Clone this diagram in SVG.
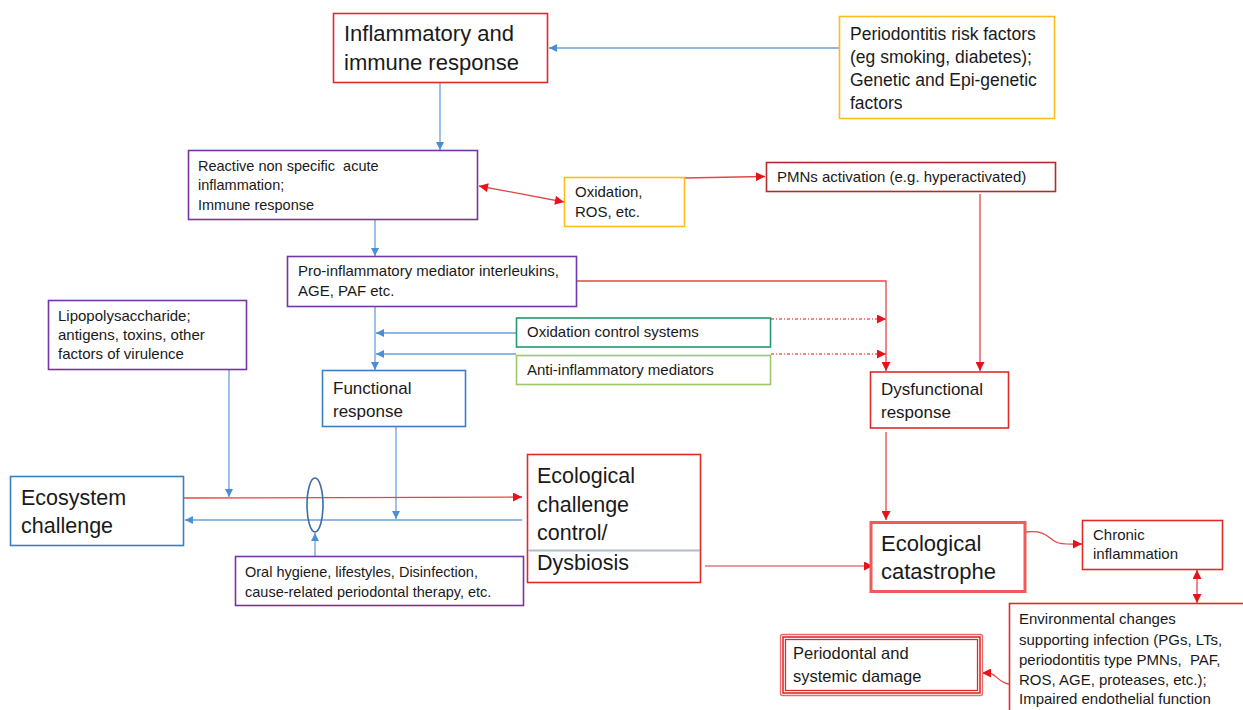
<svg xmlns="http://www.w3.org/2000/svg" width="1243" height="710" viewBox="0 0 1243 710">
  <defs>
    <marker id="arrBlue" viewBox="0 0 10 10" refX="10" refY="5" markerWidth="9" markerHeight="8" markerUnits="userSpaceOnUse" orient="auto-start-reverse">
      <path d="M0,0 L10,5 L0,10 z" fill="#4a8fd4"/>
    </marker>
    <marker id="arrRed" viewBox="0 0 10 10" refX="10" refY="5" markerWidth="10" markerHeight="9" markerUnits="userSpaceOnUse" orient="auto-start-reverse">
      <path d="M0,0 L10,5 L0,10 z" fill="#e8121b"/>
    </marker>
    <style>
      text { font-family: "Liberation Sans", Arial, sans-serif; fill: #1a1a1a; white-space: pre; }
      .box { fill: #ffffff; stroke-width: 1.6; }
      .red { stroke: #e02a2a; }
      .darkred { stroke: #b52a2e; }
      .purple { stroke: #7536a4; }
      .orange { stroke: #fcbc1c; }
      .blue { stroke: #3a7fc4; }
      .green { stroke: #23996b; }
      .lgreen { stroke: #9cc966; }
      .big { font-size: 22px; }
      .mid { font-size: 17px; }
      .sm { font-size: 15px; }
      .xs { font-size: 14.5px; }
      .cb { fill: none; stroke: #6a9fd6; stroke-width: 1.3; }
      .cr { fill: none; stroke: #e64545; stroke-width: 1.3; }
      .cd { fill: none; stroke: #e8121b; stroke-width: 1.2; stroke-dasharray: 3 2 1 2; }
    </style>
  </defs>

  <!-- connectors -->
  <g id="connectors">
    <line class="cb" x1="840" y1="48" x2="549" y2="48" marker-end="url(#arrBlue)"/>
    <line class="cb" x1="440" y1="83" x2="440" y2="150" marker-end="url(#arrBlue)"/>
    <line class="cr" x1="479" y1="186" x2="564" y2="202" marker-start="url(#arrRed)" marker-end="url(#arrRed)"/>
    <line class="cr" x1="684" y1="178" x2="765" y2="176.5" marker-end="url(#arrRed)"/>
    <line class="cb" x1="375" y1="220" x2="375" y2="256" marker-end="url(#arrBlue)"/>
    <line class="cb" x1="375" y1="307" x2="375" y2="370" marker-end="url(#arrBlue)"/>
    <line class="cb" x1="516" y1="333" x2="376" y2="333" marker-end="url(#arrBlue)"/>
    <line class="cb" x1="516" y1="354" x2="376" y2="354" marker-end="url(#arrBlue)"/>
    <line class="cd" x1="771" y1="319" x2="886" y2="319" marker-end="url(#arrRed)"/>
    <line class="cd" x1="771" y1="354" x2="886" y2="354" marker-end="url(#arrRed)"/>
    <polyline class="cr" points="577,281 886,281 886,371" marker-end="url(#arrRed)"/>
    <line class="cr" x1="980" y1="194" x2="980" y2="371" marker-end="url(#arrRed)"/>
    <line class="cr" x1="886" y1="432" x2="886" y2="520" marker-end="url(#arrRed)"/>
    <line class="cb" x1="229" y1="370" x2="229" y2="497" marker-end="url(#arrBlue)"/>
    <line class="cb" x1="396" y1="427" x2="396" y2="519" marker-end="url(#arrBlue)"/>
    <line class="cr" x1="181" y1="498" x2="522" y2="497" marker-end="url(#arrRed)"/>
    <line class="cb" x1="522" y1="520" x2="185" y2="520" marker-end="url(#arrBlue)"/>
    <line class="cb" x1="315" y1="556" x2="315" y2="533" marker-end="url(#arrBlue)"/>
    <ellipse cx="315" cy="505" rx="8" ry="27" fill="none" stroke="#3b6da6" stroke-width="1.6"/>
    <line x1="705" y1="566" x2="873" y2="566" stroke="#e07a7a" stroke-width="1.6" marker-end="url(#arrRed)"/>
    <path class="cr" d="M1026,532 C1046,530 1048,538 1056,542 C1062,545 1070,544 1082,544" marker-end="url(#arrRed)"/>
    <line class="cr" x1="1197" y1="570" x2="1197" y2="603" marker-start="url(#arrRed)" marker-end="url(#arrRed)"/>
    <path class="cr" d="M1009,684 C999,683 995,673 989,673 L982,673" marker-end="url(#arrRed)"/>
  </g>

  <g id="inflammatory-response">
    <rect class="box red" x="333.5" y="13.5" width="214" height="69"/>
    <text class="big" x="344" y="41">Inflammatory and</text>
    <text class="big" x="344" y="70">immune response</text>
  </g>

  <g id="risk-factors">
    <rect class="box orange" x="839.5" y="16.5" width="215" height="102"/>
    <text style="font-size:17.5px" x="850" y="40">Periodontitis risk factors</text>
    <text style="font-size:17.5px" x="850" y="63">(eg smoking, diabetes);</text>
    <text style="font-size:17.5px" x="850" y="86">Genetic and Epi-genetic</text>
    <text style="font-size:17.5px" x="850" y="109">factors</text>
  </g>

  <g id="acute-inflammation">
    <rect class="box purple" x="188.5" y="150.5" width="289" height="69"/>
    <text class="xs" x="198" y="171" xml:space="preserve">Reactive non specific  acute</text>
    <text class="xs" x="198" y="190">inflammation;</text>
    <text class="xs" x="198" y="210">Immune response</text>
  </g>

  <g id="oxidation">
    <rect class="box orange" x="564.5" y="177.5" width="120" height="49"/>
    <text class="sm" x="575" y="197">Oxidation,</text>
    <text class="sm" x="575" y="217">ROS, etc.</text>
  </g>

  <g id="pmn-activation">
    <rect class="box darkred" x="766.5" y="162.5" width="289" height="29"/>
    <text class="sm" x="777" y="182">PMNs activation (e.g. hyperactivated)</text>
  </g>

  <g id="pro-inflammatory">
    <rect class="box purple" x="287.5" y="256.5" width="289" height="50"/>
    <text class="sm" x="298" y="276">Pro-inflammatory mediator interleukins,</text>
    <text class="sm" x="298" y="296">AGE, PAF etc.</text>
  </g>

  <g id="lipopolysaccharide">
    <rect class="box purple" x="48.5" y="300.5" width="198" height="69"/>
    <text class="sm" x="58" y="321">Lipopolysaccharide;</text>
    <text class="sm" x="58" y="340">antigens, toxins, other</text>
    <text class="sm" x="58" y="359">factors of virulence</text>
  </g>

  <g id="oxidation-control">
    <rect class="box green" x="516.5" y="318" width="254" height="29"/>
    <text class="sm" x="527" y="337">Oxidation control systems</text>
  </g>

  <g id="anti-inflammatory">
    <rect class="box lgreen" x="516.5" y="355.5" width="254" height="29"/>
    <text class="sm" x="527" y="375">Anti-inflammatory mediators</text>
  </g>

  <g id="functional-response">
    <rect class="box blue" x="322.5" y="370.5" width="143" height="56"/>
    <text class="mid" x="333" y="394">Functional</text>
    <text class="mid" x="333" y="417">response</text>
  </g>

  <g id="dysfunctional-response">
    <rect class="box red" x="870.5" y="372" width="138" height="56"/>
    <text class="mid" x="881" y="395">Dysfunctional</text>
    <text class="mid" x="881" y="418">response</text>
  </g>

  <g id="ecosystem-challenge">
    <rect class="box blue" x="10.5" y="476.5" width="173" height="69"/>
    <text style="font-size:21.5px" x="21" y="505">Ecosystem</text>
    <text style="font-size:21.5px" x="21" y="533">challenge</text>
  </g>

  <g id="oral-hygiene">
    <rect class="box purple" x="235.5" y="556.5" width="288" height="49"/>
    <text class="xs" x="245" y="577">Oral hygiene, lifestyles, Disinfection,</text>
    <text class="xs" x="245" y="597">cause-related periodontal therapy, etc.</text>
  </g>

  <g id="ecological-control">
    <rect class="box red" x="527.5" y="454.5" width="173" height="128"/>
    <line x1="528" y1="550.5" x2="700" y2="550.5" stroke="#adbbcc" stroke-width="1.8"/>
    <text style="font-size:21.5px" x="537" y="483">Ecological</text>
    <text style="font-size:21.5px" x="537" y="512">challenge</text>
    <text style="font-size:21.5px" x="537" y="540">control/</text>
    <text style="font-size:21.5px" x="537" y="570">Dysbiosis</text>
  </g>

  <g id="ecological-catastrophe">
    <rect x="871" y="522.5" width="154" height="69" fill="#ffffff" stroke="#f05a5a" stroke-width="3"/>
    <text class="big" x="881" y="551">Ecological</text>
    <text class="big" x="881" y="579">catastrophe</text>
  </g>

  <g id="chronic-inflammation">
    <rect class="box red" x="1082.5" y="520.5" width="140" height="49"/>
    <text class="sm" x="1093" y="540">Chronic</text>
    <text class="sm" x="1093" y="559">inflammation</text>
  </g>

  <g id="environmental-changes">
    <rect class="box red" x="1009.5" y="603.5" width="240" height="120"/>
    <text class="sm" x="1019" y="624">Environmental changes</text>
    <text class="sm" x="1019" y="645">supporting infection (PGs, LTs,</text>
    <text class="sm" x="1019" y="665" xml:space="preserve">periodontitis type PMNs,  PAF,</text>
    <text class="sm" x="1019" y="685">ROS, AGE, proteases, etc.);</text>
    <text class="sm" x="1019" y="704">Impaired endothelial function</text>
  </g>

  <g id="periodontal-damage">
    <rect x="780.5" y="634.5" width="202" height="61" rx="2" fill="#ffffff" stroke="#e86a6a" stroke-width="1.3"/>
    <rect x="783" y="637" width="197" height="56" fill="none" stroke="#e02a2a" stroke-width="1.6"/>
    <rect x="785.5" y="639.5" width="192" height="51" fill="none" stroke="#e02a2a" stroke-width="1.3"/>
    <text style="font-size:16.5px" x="793" y="659">Periodontal and</text>
    <text style="font-size:16.5px" x="793" y="682">systemic damage</text>
  </g>
</svg>
